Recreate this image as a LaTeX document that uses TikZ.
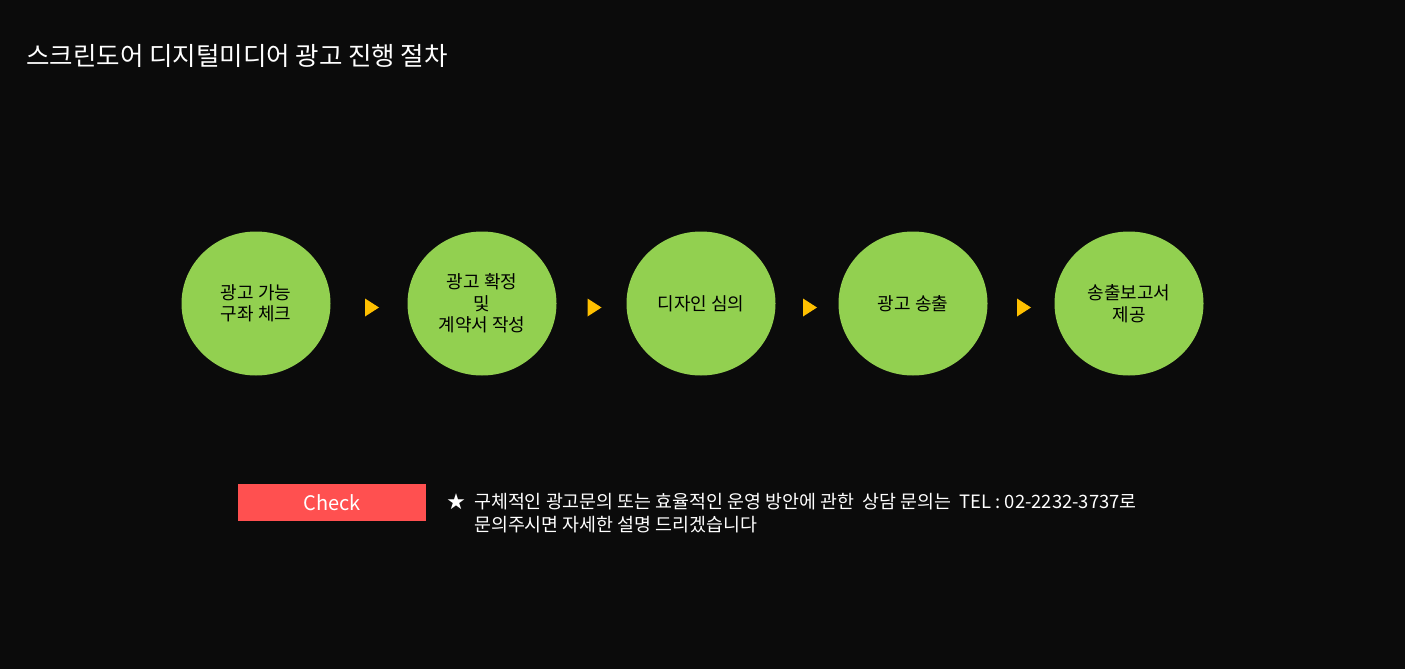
\documentclass[tikz,border=0pt]{standalone}
\usepackage{fontspec,xcolor}
\setmainfont{Noto Sans CJK KR}
\usetikzlibrary{shapes.geometric,calc}
\definecolor{bgdark}{HTML}{0B0B0B}
\definecolor{stagegreen}{HTML}{92D050}
\definecolor{markgold}{HTML}{FFC000}
\definecolor{checkred}{HTML}{FF5050}
\begin{document}
\begin{tikzpicture}[x=1pt,y=-1pt]
\tikzset{stage/.style={ellipse,fill=stagegreen,minimum width=149pt,minimum height=144pt,inner sep=0pt,align=center,text=black,font=\fontsize{18}{21.5}\selectfont}, lbl/.style={text=white,inner sep=0pt}}
\fill[bgdark] (0,0) rectangle (1405,669);
\useasboundingbox (0,0) rectangle (1405,669);
\node[lbl,anchor=west,font=\fontsize{25.5}{30}\selectfont] (title) at (26,56) {스크린도어 디지털미디어 광고 진행 절차};
% Five process stages, left to right.
\foreach \n/\x/\t in {1/256/{광고 가능\\구좌 체크},2/482/{광고 확정\\및\\계약서 작성},3/701/{디자인 심의},4/913/{광고 송출},5/1129/{송출보고서\\제공}}{\node[stage] (s\n) at (\x,303.5) {\t};}
% Gold markers sit halfway between neighbouring stages.
\foreach \a/\b in {1/2,2/3,3/4,4/5}{\coordinate (m\a) at ($(s\a)!0.5!(s\b)+(3,4)$); \fill[markgold] ($(m\a)+(-7,-9)$) -- ($(m\a)+(7,0)$) -- ($(m\a)+(-7,9)$) -- cycle;}
\node[fill=checkred,minimum width=188pt,minimum height=37pt,inner sep=0pt,text=white,font=\fontsize{20}{24}\selectfont] (check) at (332,502.5) {Check};
\node[lbl,font=\fontsize{18}{20}\selectfont] (star) at (456,502) {★};
\node[lbl,anchor=west,align=left,font=\fontsize{18.4}{22.5}\selectfont] (note) at (474,513) {구체적인 광고문의 또는 효율적인 운영 방안에 관한\ \ 상담 문의는\ \ TEL : 02-2232-3737로\\문의주시면 자세한 설명 드리겠습니다};
\end{tikzpicture}
\end{document}
